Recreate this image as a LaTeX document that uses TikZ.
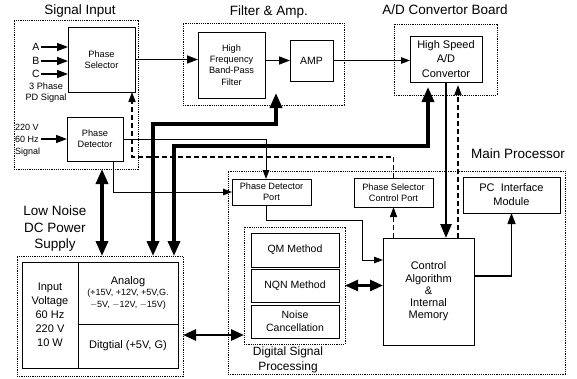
\documentclass[tikz,border=0pt]{standalone}
\usepackage{fontspec}
\setmainfont{Liberation Sans}
\usetikzlibrary{arrows.meta}

\tikzset{
  box/.style={draw, line width=0.8pt, inner sep=0pt, outer sep=0pt, align=center},
  grp/.style={draw, line width=0.6pt, dash pattern=on 1.2pt off 1pt, inner sep=0pt, outer sep=0pt},
  ttl/.style={font=\fontsize{13.5}{16.5}\selectfont, align=center},
  small/.style={font=\fontsize{9.2}{11.2}\selectfont},
  mid/.style={font=\fontsize{10.5}{13}\selectfont},
  sig/.style={line width=1.4pt, -{Triangle[length=11pt,width=8pt]}},
  thin/.style={line width=1pt, -{Triangle[length=9pt,width=6.5pt]}},
  ctl/.style={line width=1.6pt, dash pattern=on 5pt off 3pt, -{Triangle[length=10pt,width=7pt]}},
  data/.style={line width=2.6pt, -{Triangle[length=14pt,width=11pt]}},
  dbl/.style={line width=2.6pt, {Triangle[length=13pt,width=11pt]}-{Triangle[length=13pt,width=11pt]}},
  pwr/.style={line width=3.4pt, {Triangle[length=15pt,width=12pt]}-{Triangle[length=15pt,width=12pt]}}
}

\begin{document}
\begin{tikzpicture}[x=1pt,y=-1pt]
  \useasboundingbox (0,0) rectangle (577,378);

  % group frames
  \node[grp, minimum width=124, minimum height=149] (sigin) at (76,94.5) {};
  \node[grp, minimum width=161, minimum height=82] (filt) at (263.5,64) {};
  \node[grp, minimum width=103, minimum height=71] (adbrd) at (445.5,59.5) {};
  \node[grp, minimum width=337, minimum height=203] (mainp) at (396.5,272.5) {};
  \node[grp, minimum width=101, minimum height=117] (dsp) at (294.5,285.5) {};
  \node[grp, minimum width=166, minimum height=120] (pwr) at (100,316) {};

  % titles
  \node[ttl] (tsig) at (80,11) {Signal Input};
  \node[ttl] (tfilt) at (269,12) {Filter \& Amp.};
  \node[ttl] (tad) at (445,10) {A/D Convertor Board};
  \node[ttl] (tmain) at (518,154) {Main Processor};
  \node[ttl] (tpwr) at (55,229) {Low Noise\\DC Power\\Supply};
  \node[align=center, font=\fontsize{12}{15}\selectfont] (tdsp) at (288,359.5) {Digital Signal\\Processing};

  % signal input
  \node[box, small, minimum width=67, minimum height=65] (ps) at (101.5,59.5) {Phase\\Selector};
  \node[box, small, minimum width=56, minimum height=44] (pd) at (95,139) {Phase\\Detector};
  \node[mid, inner sep=1pt] (ina) at (36,47) {A};
  \node[mid, inner sep=1pt] (inb) at (36,61) {B};
  \node[mid, inner sep=1pt] (inc) at (36,74) {C};
  \node[small, align=center] (pdsig) at (46,92.5) {3 Phase\\PD Signal};
  \node[anchor=west, align=left, inner sep=1pt, font=\fontsize{9}{12}\selectfont] (acin) at (14,140) {220 V\\60 Hz\\Signal};

  % filter and amp
  \node[box, small, minimum width=67, minimum height=66] (bpf) at (231.5,65) {High\\Frequency\\Band-Pass\\Filter};
  \node[box, mid, minimum width=43, minimum height=41] (amp) at (311.5,60.5) {AMP};

  % a/d board
  \node[box, font=\fontsize{11}{14.5}\selectfont, minimum width=72, minimum height=46] (adc) at (446,59) {High Speed\\A/D\\Convertor};

  % main processor
  \node[box, small, minimum width=79, minimum height=26] (pdport) at (271.5,192) {Phase Detector\\Port};
  \node[box, small, minimum width=79, minimum height=29] (pscport) at (393.5,192.5) {Phase Selector\\Control Port};
  \node[box, font=\fontsize{11}{14}\selectfont, minimum width=97, minimum height=36] (pcim) at (511.5,195) {PC\ \ Interface\\Module};
  \node[box, font=\fontsize{11}{12.2}\selectfont, minimum width=91, minimum height=107] (ctrl) at (428.5,291.5) {Control\\Algorithm\\\&\\Internal\\Memory};
  \node[box, mid, minimum width=88, minimum height=34] (qm) at (295,250) {QM Method};
  \node[box, mid, minimum width=88, minimum height=33] (nqn) at (295,285.5) {NQN Method};
  \node[box, mid, minimum width=88, minimum height=33] (nc) at (295,321.5) {Noise\\Cancellation};

  % power supply
  \node[box, font=\fontsize{11}{14}\selectfont, minimum width=56, minimum height=106] (pin) at (50,315) {Input\\Voltage\\60 Hz\\220 V\\10 W};
  \node[box, minimum width=100, minimum height=62] (pana) at (128,293) {{\fontsize{11}{13}\selectfont Analog}\\[-1pt]{\fontsize{9}{12.5}\selectfont (+15V, +12V, +5V,G.}\\{\fontsize{9}{12}\selectfont $-$5V, $-$12V, $-$15V)}};
  \node[box, font=\fontsize{11}{13}\selectfont, minimum width=100, minimum height=44] (pdig) at (128,346) {Ditgtial (+5V, G)};

  % inputs
  \draw[sig] (ina) -- (ina -| ps.west);
  \draw[sig] (inb) -- (inb -| ps.west);
  \draw[sig] (inc) -- (inc -| ps.west);
  \draw[sig] (pd.west -| acin.east) -- (pd.west);

  % signal path
  \draw[sig] (ps.east) -- (ps.east -| bpf.west);
  \draw[sig] (amp.west -| bpf.east) -- (amp.west);
  \draw[thin] (amp.east) -- (amp.east -| adc.west);

  % power lines
  \coordinate (xa) at (102,0);
  \coordinate (xb) at (153,124);
  \coordinate (xc) at (174,146);
  \coordinate (bpfin) at (276,93);
  \coordinate (adin) at (428,87);
  \draw[pwr] (pwr.north -| xa) -- (sigin.south -| xa);
  \draw[pwr] (pwr.north -| xb) -- (xb) -| (bpfin);
  \draw[pwr] (pwr.north -| xc) -- (xc) -| (adin);

  % phase detector to port
  \draw[thin] ([xshift=18pt]pd.south) |- (pdport.west);
  \draw[thin] (pd.east) -| ([xshift=-5.5pt]pdport.north);

  % selector control (dashed)
  \coordinate (dsel) at (132,157);
  \draw[ctl] (pscport.north) |- (dsel) -- (dsel |- ps.south);
  \draw[ctl] (pscport.south |- ctrl.north) -- (pscport.south);
  \coordinate (adtx) at ([xshift=12pt]adc.south);
  \draw[ctl, shorten >=3pt] (adtx |- ctrl.north) -- (adtx);

  % data to control
  \draw[data] (adc.south) -- (adc.south |- ctrl.north);
  \coordinate (k1) at (362,220);
  \draw[thin] ([xshift=-5pt]pdport.south) |- (k1) |- ([yshift=31.5pt]ctrl.west);
  \draw[sig] ([yshift=15.5pt]ctrl.east) -| (pcim.south);
  \draw[dbl] (dsp.east) -- (dsp.east -| ctrl.west);
  \coordinate (ym) at (0,335);
  \draw[dbl] (pwr.east |- ym) -- (dsp.west |- ym);
\end{tikzpicture}
\end{document}
